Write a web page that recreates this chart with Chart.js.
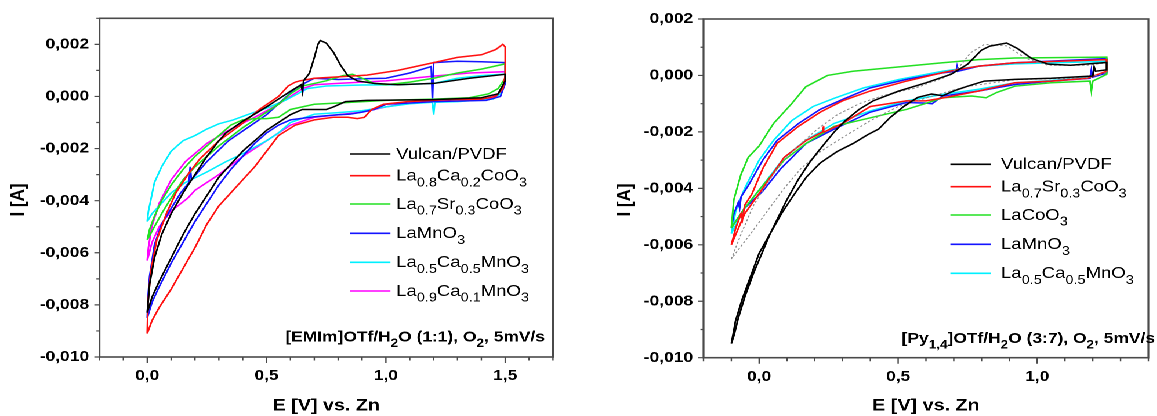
<!DOCTYPE html>
<html>
<head>
<meta charset="utf-8">
<title>CV curves</title>
<script src="https://cdn.jsdelivr.net/npm/chart.js@4.4.1/dist/chart.umd.min.js"></script>
<style>
  html, body { margin: 0; padding: 0; background: #fff; }
  body { width: 1157px; height: 416px; overflow: hidden; position: relative; }
  /* the original figure is stretched horizontally, so the charts are too */
  #stage { position: absolute; left: 0; top: 0; width: 1000px; height: 416px;
           transform: scaleX(1.16); transform-origin: 0 0; }
  #stage canvas { position: absolute; top: 0; }
</style>
</head>
<body>
<div id="stage">
  <canvas id="chartEMIm" width="500" height="416" style="left:0"></canvas>
  <canvas id="chartPy" width="500" height="416" style="left:500px"></canvas>
</div>
<script>
// ---- data: [E (V), I (A)] ----

// left panel: [EMIm]OTf/H2O (1:1)
const vulcanL = [[0,-0.0083],[0.01,-0.0072],[0.03,-0.0062],[0.06,-0.0053],[0.1,-0.0045],[0.15,-0.0037],[0.2,-0.003],[0.25,-0.0023],[0.3,-0.0017],[0.33,-0.0014],[0.4,-0.00095],[0.5,-0.0004],[0.55,-0.0001],[0.6,0.0002],[0.645,0.00045],[0.65,0.0002],[0.655,0.0006],[0.68,0.0009],[0.7,0.0015],[0.715,0.002],[0.725,0.00215],[0.75,0.00205],[0.78,0.0017],[0.81,0.0012],[0.84,0.0008],[0.88,0.0006],[0.95,0.0005],[1.05,0.00045],[1.2,0.0005],[1.35,0.0007],[1.5,0.00085],
  [1.5,0.0006],[1.47,0.0001],[1.4,-0.00005],[1.2,-0.00012],[0.92,-0.00015],[0.83,-0.0002],[0.78,-0.0004],[0.75,-0.0005],[0.7,-0.0005],[0.65,-0.0005],[0.6,-0.0007],[0.55,-0.001],[0.5,-0.0013],[0.45,-0.0017],[0.4,-0.0021],[0.35,-0.0026],[0.3,-0.0031],[0.25,-0.0038],[0.2,-0.0045],[0.15,-0.0053],[0.1,-0.0062],[0.05,-0.0071],[0.02,-0.0077],[0,-0.0083]];
const laCaCoL = [[0,-0.0091],[0.003,-0.0079],[0.015,-0.0067],[0.04,-0.0055],[0.08,-0.0045],[0.12,-0.0037],[0.17,-0.003],[0.22,-0.0024],[0.3,-0.0017],[0.39,-0.0011],[0.47,-0.0005],[0.55,0.0],[0.59,0.0004],[0.62,0.00055],[0.64,0.0006],[0.7,0.0007],[0.8,0.00075],[0.92,0.00082],[1.05,0.001],[1.2,0.0013],[1.3,0.0015],[1.4,0.0016],[1.46,0.0018],[1.49,0.002],[1.5,0.0019],
  [1.5,0.0008],[1.49,0.0003],[1.46,0.0],[1.4,-0.0001],[1.24,-0.00013],[1.09,-0.0002],[0.99,-0.0003],[0.94,-0.0005],[0.91,-0.0008],[0.88,-0.00085],[0.84,-0.0008],[0.78,-0.0008],[0.7,-0.0009],[0.62,-0.0011],[0.55,-0.0015],[0.5,-0.0021],[0.45,-0.0027],[0.4,-0.0032],[0.35,-0.0037],[0.3,-0.0042],[0.25,-0.0049],[0.2,-0.0058],[0.15,-0.0066],[0.1,-0.0074],[0.05,-0.0081],[0.02,-0.0086],[0,-0.0091]];
const laSrCoL = [[0,-0.0055],[0.01,-0.0051],[0.03,-0.0046],[0.06,-0.004],[0.1,-0.0034],[0.15,-0.0028],[0.2,-0.0023],[0.25,-0.0019],[0.3,-0.0015],[0.35,-0.0011],[0.4,-0.0009],[0.45,-0.00085],[0.5,-0.00085],[0.55,-0.0008],[0.6,-0.0005],[0.7,-0.0003],[0.8,-0.00025],[1.0,-0.00015],[1.2,-0.0001],[1.35,-0.00005],[1.43,0.0001],[1.47,0.0003],[1.5,0.0007],[1.5,0.00125],
  [1.4,0.00105],[1.3,0.0009],[1.2,0.0007],[1.1,0.00055],[1.0,0.00045],[0.95,0.0005],[0.9,0.0007],[0.86,0.00085],[0.82,0.0008],[0.75,0.0006],[0.7,0.0005],[0.65,0.0004],[0.6,0.0001],[0.55,-0.0003],[0.5,-0.0006],[0.4,-0.0012],[0.3,-0.0019],[0.2,-0.0027],[0.15,-0.0032],[0.1,-0.0039],[0.06,-0.0045],[0.03,-0.005],[0,-0.0055]];
const laMnL = [[0,-0.0085],[0.004,-0.0076],[0.01,-0.0069],[0.03,-0.0057],[0.06,-0.0049],[0.1,-0.0043],[0.14,-0.0037],[0.175,-0.0033],[0.18,-0.0027],[0.185,-0.0032],[0.25,-0.0025],[0.34,-0.0017],[0.42,-0.0012],[0.5,-0.0007],[0.56,-0.0002],[0.62,0.0003],[0.648,0.00045],[0.652,0.0002],[0.657,0.0005],[0.7,0.0007],[0.8,0.00065],[0.9,0.00068],[1.0,0.0007],[1.1,0.0009],[1.19,0.00115],[1.195,-0.0002],[1.2,0.0013],[1.3,0.00135],[1.4,0.00133],[1.5,0.0013],
  [1.5,0.0005],[1.48,0.0],[1.42,-0.00015],[1.2,-0.0002],[1.1,-0.00025],[1.0,-0.0003],[0.95,-0.0005],[0.9,-0.0006],[0.85,-0.00068],[0.8,-0.0007],[0.7,-0.00078],[0.6,-0.0009],[0.55,-0.0011],[0.5,-0.0014],[0.45,-0.0018],[0.4,-0.0023],[0.35,-0.0028],[0.3,-0.0034],[0.25,-0.0041],[0.2,-0.0048],[0.15,-0.0056],[0.1,-0.0064],[0.05,-0.0073],[0.02,-0.0079],[0,-0.0085]];
const laCaMn5L = [[0,-0.0048],[0.005,-0.0044],[0.012,-0.0041],[0.03,-0.0033],[0.06,-0.0027],[0.1,-0.0021],[0.15,-0.0017],[0.2,-0.0015],[0.25,-0.00125],[0.3,-0.00105],[0.36,-0.0009],[0.42,-0.0007],[0.5,-0.00045],[0.58,-0.00014],[0.63,0.0001],[0.67,0.0003],[0.75,0.0004],[0.9,0.00044],[1.05,0.00045],[1.2,0.0005],[1.3,0.0007],[1.4,0.0008],[1.5,0.00086],
  [1.5,0.0005],[1.48,0.0001],[1.45,-0.0001],[1.3,-0.0002],[1.205,-0.00022],[1.2,-0.0007],[1.195,-0.00022],[1.1,-0.00028],[1.0,-0.0004],[0.9,-0.00055],[0.8,-0.00062],[0.7,-0.00068],[0.6,-0.001],[0.55,-0.0014],[0.5,-0.0017],[0.4,-0.0022],[0.33,-0.0025],[0.25,-0.0029],[0.16,-0.0033],[0.1,-0.0037],[0.05,-0.0042],[0.02,-0.0045],[0,-0.0048]];
const laCaMn9L = [[0,-0.0063],[0.005,-0.0058],[0.019,-0.005],[0.05,-0.0041],[0.1,-0.0032],[0.16,-0.0025],[0.25,-0.0018],[0.34,-0.0013],[0.45,-0.0008],[0.55,-0.0003],[0.6,0.0],[0.65,0.0003],[0.7,0.00045],[0.8,0.0005],[0.9,0.00055],[1.0,0.0006],[1.2,0.00078],[1.35,0.0009],[1.5,0.00095],
  [1.5,0.0005],[1.48,0.0001],[1.42,-0.0001],[1.3,-0.00018],[1.2,-0.0002],[1.1,-0.00025],[1.0,-0.0004],[0.9,-0.0006],[0.8,-0.0007],[0.7,-0.0008],[0.6,-0.0011],[0.5,-0.0017],[0.4,-0.0023],[0.3,-0.003],[0.2,-0.0036],[0.17,-0.0039],[0.1,-0.0044],[0.05,-0.005],[0.02,-0.0056],[0,-0.0063]];

// right panel: [Py1,4]OTf/H2O (3:7)
const vulcanR = [[-0.1,-0.0095],[-0.085,-0.0087],[-0.06,-0.0079],[-0.03,-0.0071],[0.0,-0.0063],[0.04,-0.0056],[0.07,-0.005],[0.1,-0.0044],[0.14,-0.0037],[0.18,-0.0031],[0.22,-0.0026],[0.27,-0.002],[0.31,-0.0016],[0.36,-0.0012],[0.41,-0.0009],[0.5,-0.00056],[0.6,-0.00026],[0.69,0.00004],[0.75,0.0004],[0.8,0.0009],[0.83,0.00104],[0.89,0.00115],[0.93,0.00095],[0.98,0.0006],[1.04,0.0004],[1.12,0.00036],[1.25,0.00046],
  [1.25,0.0002],[1.21,0.00015],[1.205,0.0003],[1.2,-0.00002],[1.05,-0.0001],[0.92,-0.00014],[0.81,-0.0002],[0.75,-0.00038],[0.7,-0.00055],[0.66,-0.00072],[0.62,-0.00066],[0.57,-0.00078],[0.52,-0.0011],[0.47,-0.0015],[0.43,-0.0019],[0.39,-0.0021],[0.34,-0.0024],[0.28,-0.0027],[0.22,-0.0031],[0.17,-0.0036],[0.12,-0.0043],[0.08,-0.0049],[0.04,-0.0056],[0.01,-0.0063],[-0.02,-0.007],[-0.05,-0.0078],[-0.075,-0.0086],[-0.09,-0.0092],[-0.1,-0.0095]];
const dottedR = [[-0.1,-0.0065],[-0.06,-0.0055],[-0.02,-0.0046],[0.03,-0.0038],[0.08,-0.0031],[0.14,-0.0025],[0.21,-0.0019],[0.28,-0.0014],[0.36,-0.001],[0.45,-0.0007],[0.56,-0.00045],[0.66,-0.0001],[0.72,0.0003],[0.76,0.0008],[0.81,0.0011],[0.89,0.00105],[0.96,0.0006],[1.04,0.00036],[1.18,0.00036],[1.25,0.00045],
  [1.25,0.0001],[1.18,-0.00008],[0.92,-0.00015],[0.74,-0.0004],[0.6,-0.0008],[0.5,-0.0011],[0.4,-0.0016],[0.3,-0.0022],[0.22,-0.0027],[0.15,-0.0033],[0.09,-0.004],[0.03,-0.0048],[-0.03,-0.0056],[-0.1,-0.0065]];
const laSrCoR = [[-0.1,-0.006],[-0.084,-0.0054],[-0.065,-0.0049],[-0.06,-0.0051],[-0.052,-0.0046],[-0.026,-0.0042],[0.013,-0.0033],[0.065,-0.0024],[0.142,-0.0018],[0.22,-0.0013],[0.3,-0.0009],[0.4,-0.00055],[0.53,-0.0002],[0.66,0.0001],[0.71,0.0002],[0.79,0.00033],[0.92,0.00045],[1.25,0.00056],
  [1.25,0.00015],[1.18,-0.0001],[1.05,-0.0002],[0.92,-0.00026],[0.79,-0.00055],[0.66,-0.0008],[0.6,-0.0009],[0.53,-0.0009],[0.4,-0.0011],[0.3,-0.0017],[0.235,-0.002],[0.232,-0.0018],[0.228,-0.002],[0.17,-0.0023],[0.09,-0.0029],[0.013,-0.004],[-0.052,-0.0049],[-0.1,-0.006]];
const laCoR = [[-0.1,-0.0054],[-0.091,-0.0044],[-0.065,-0.0035],[-0.039,-0.0029],[0.0,-0.0025],[0.052,-0.0017],[0.117,-0.001],[0.168,-0.0004],[0.246,0.0],[0.337,0.00015],[0.466,0.00027],[0.66,0.00045],[0.79,0.00056],[0.92,0.00062],[1.25,0.00065],
  [1.25,0.00004],[1.2,-0.0002],[1.195,-0.00055],[1.19,-0.0002],[1.05,-0.00026],[0.92,-0.00038],[0.855,-0.0006],[0.816,-0.00079],[0.764,-0.00073],[0.66,-0.00079],[0.596,-0.001],[0.531,-0.0012],[0.4,-0.0015],[0.27,-0.0018],[0.17,-0.0024],[0.09,-0.003],[0.013,-0.0039],[-0.052,-0.0047],[-0.1,-0.0054]];
const laMnR = [[-0.1,-0.0054],[-0.091,-0.0049],[-0.075,-0.0045],[-0.07,-0.0047],[-0.065,-0.0043],[-0.039,-0.0039],[0.013,-0.003],[0.065,-0.0023],[0.142,-0.0017],[0.22,-0.0012],[0.3,-0.00085],[0.4,-0.00044],[0.53,-0.00014],[0.66,0.00009],[0.71,0.00015],[0.712,0.0003],[0.715,0.00015],[0.79,0.00033],[0.92,0.00045],[1.25,0.0006],
  [1.25,0.00009],[1.2,-0.00006],[1.195,0.0002],[1.19,-0.0001],[1.05,-0.0002],[0.92,-0.00032],[0.79,-0.00055],[0.66,-0.00073],[0.622,-0.001],[0.6,-0.00098],[0.53,-0.00096],[0.4,-0.0013],[0.27,-0.0019],[0.17,-0.0024],[0.078,-0.0033],[0.013,-0.0041],[-0.052,-0.0047],[-0.1,-0.0054]];
const laCaMn5R = [[-0.1,-0.0056],[-0.084,-0.0048],[-0.052,-0.004],[0.0,-0.003],[0.052,-0.0023],[0.117,-0.0016],[0.194,-0.0011],[0.272,-0.0008],[0.376,-0.00044],[0.505,-0.00014],[0.66,0.00015],[0.79,0.00033],[0.92,0.00041],[1.25,0.0005],
  [1.25,0.00009],[1.18,-0.00008],[1.05,-0.00018],[0.92,-0.00026],[0.79,-0.00049],[0.66,-0.00067],[0.53,-0.0009],[0.4,-0.00126],[0.27,-0.0017],[0.168,-0.0023],[0.091,-0.0029],[0.013,-0.0039],[-0.052,-0.0047],[-0.1,-0.0056]];

// legend texts, _{..} = subscript
const namesL = ['Vulcan/PVDF', 'La_{0.8}Ca_{0.2}CoO_{3}', 'La_{0.7}Sr_{0.3}CoO_{3}', 'LaMnO_{3}', 'La_{0.5}Ca_{0.5}MnO_{3}', 'La_{0.9}Ca_{0.1}MnO_{3}'];
const namesR = ['Vulcan/PVDF', 'La_{0.7}Sr_{0.3}CoO_{3}', 'LaCoO_{3}', 'LaMnO_{3}', 'La_{0.5}Ca_{0.5}MnO_{3}'];
const noteL = '[EMIm]OTf/H_{2}O (1:1), O_{2}, 5mV/s';
const noteR = '[Py_{1,4}]OTf/H_{2}O (3:7), O_{2}, 5mV/s';

const FONT = '"Liberation Sans", Arial, Helvetica, sans-serif';
Chart.defaults.font.family = FONT;
Chart.defaults.color = '#000';

const isMult = (v, step) => Math.abs(v / step - Math.round(v / step)) < 1e-6;
const fmt = (v, d) => (Math.abs(v) < 1e-9 ? 0 : v).toFixed(d).replace('.', ',');

function drawRich(ctx, text, x, y, size, weight, align) {
    const subSize = size * 0.78;
    const parts = text.split(/_\{([^}]*)\}/)
        .map((t, i) => ({ t, sub: i % 2 === 1 }))
        .filter(p => p.t);
    const fontOf = sub => `${weight} ${sub ? subSize : size}px ${FONT}`;
    let total = 0;
    parts.forEach(p => {
        ctx.font = fontOf(p.sub);
        p.w = ctx.measureText(p.t).width;
        total += p.w;
    });
    let cx = align === 'right' ? x - total : x;
    ctx.textAlign = 'left';
    ctx.textBaseline = 'alphabetic';
    parts.forEach(p => {
        ctx.font = fontOf(p.sub);
        ctx.fillText(p.t, cx, p.sub ? y + size * 0.36 : y);
        cx += p.w;
    });
}

// box around the plot + outward ticks (major and minor)
const framePlugin = {
    id: 'frame',
    afterDraw(chart) {
        const { ctx, chartArea: a, scales: { x, y } } = chart;
        ctx.save();
        ctx.strokeStyle = '#4a4a4a';
        ctx.lineWidth = 1.6;
        ctx.strokeRect(a.left, a.top, a.right - a.left, a.bottom - a.top);
        ctx.lineWidth = 1.2;
        ctx.beginPath();
        x.ticks.forEach(t => {
            const px = x.getPixelForValue(t.value);
            const len = isMult(t.value, 0.5) ? 6 : 3.5;
            ctx.moveTo(px, a.bottom);
            ctx.lineTo(px, a.bottom + len);
        });
        y.ticks.forEach(t => {
            const py = y.getPixelForValue(t.value);
            const len = isMult(t.value, 0.002) ? 4.5 : 2.7;
            ctx.moveTo(a.left, py);
            ctx.lineTo(a.left - len, py);
        });
        ctx.stroke();
        ctx.restore();
    }
};

// legend with subscripts, the condition note and the y title
const notesPlugin = {
    id: 'notes',
    afterDraw(chart, args, o) {
        const ctx = chart.ctx;
        ctx.save();
        ctx.fillStyle = '#000';

        ctx.save();
        ctx.translate(o.yTitle.x, o.yTitle.y);
        ctx.rotate(-Math.PI / 2);
        ctx.font = `bold 17px ${FONT}`;
        ctx.textAlign = 'center';
        ctx.textBaseline = 'middle';
        ctx.fillText('I [A]', 0, 0);
        ctx.restore();

        let row = 0;
        chart.data.datasets.forEach(ds => {
            if (!ds.legendText) return;
            const ly = o.legend.ys[row++];
            ctx.strokeStyle = ds.borderColor;
            ctx.lineWidth = 1.6;
            ctx.beginPath();
            ctx.moveTo(o.legend.x1, ly);
            ctx.lineTo(o.legend.x2, ly);
            ctx.stroke();
            drawRich(ctx, ds.legendText, o.legend.tx, ly + 4.8, 16, 'normal', 'left');
        });

        drawRich(ctx, o.note.text, o.note.x, o.note.y, 15, 'bold', 'right');
        ctx.restore();
    }
};

function series(points, name, color, extra) {
    return Object.assign({
        label: name ? name.replace(/_\{([^}]*)\}/g, '$1') : 'reference',
        legendText: name,
        data: points.map(([x, y]) => ({ x, y })),
        borderColor: color,
        borderWidth: 1.5,
        showLine: true,
        pointRadius: 0,
        fill: false,
        tension: 0
    }, extra || {});
}

function makeChart(id, datasets, cfg) {
    return new Chart(document.getElementById(id), {
        type: 'scatter',
        data: { datasets },
        plugins: [framePlugin, notesPlugin],
        options: {
            responsive: false,
            devicePixelRatio: 2,
            animation: false,
            events: [],
            layout: { padding: cfg.padding },
            plugins: {
                legend: { display: false },
                tooltip: { enabled: false },
                notes: cfg.notes
            },
            scales: {
                x: {
                    type: 'linear',
                    min: -0.2,
                    max: cfg.xMax,
                    afterFit: s => { s.height = cfg.xHeight; },
                    grid: { display: false, drawTicks: false },
                    border: { display: false },
                    ticks: {
                        stepSize: 0.1, autoSkip: false, maxRotation: 0, minRotation: 0,
                        padding: 10, color: '#000',
                        font: { size: 15, weight: 'bold' },
                        callback: v => isMult(v, 0.5) ? fmt(v, 1) : ''
                    },
                    title: {
                        display: true, text: 'E [V] vs. Zn', color: '#000',
                        font: { size: 17, weight: 'bold' },
                        padding: { top: 0, bottom: 0 }
                    }
                },
                y: {
                    type: 'linear',
                    min: -0.010,
                    max: cfg.yMax,
                    afterFit: s => { s.width = cfg.yWidth; },
                    grid: { display: false, drawTicks: false },
                    border: { display: false },
                    ticks: {
                        stepSize: 0.001, autoSkip: false, padding: 9, color: '#000',
                        font: { size: 15, weight: 'bold' },
                        callback: v => isMult(v, 0.002) ? fmt(v, 3) : ''
                    }
                }
            }
        }
    });
}

makeChart('chartEMIm', [
    series(vulcanL, namesL[0], '#000000'),
    series(laCaCoL, namesL[1], '#ff1010'),
    series(laSrCoL, namesL[2], '#22e022'),
    series(laMnL, namesL[3], '#1414ff'),
    series(laCaMn5L, namesL[4], '#00f0ff'),
    series(laCaMn9L, namesL[5], '#ff00ff')
], {
    xMax: 1.7, yMax: 0.003,
    padding: { left: 0, top: 18.3, right: 23.3, bottom: 0 },
    yWidth: 85.8, xHeight: 59,
    notes: {
        yTitle: { x: 15.8, y: 200 },
        legend: { x1: 301.7, x2: 336.6, tx: 341.5, ys: [154, 175.7, 204, 233.3, 262.3, 291] },
        note: { text: noteL, x: 469.8, y: 341.5 }
    }
});

makeChart('chartPy', [
    series(vulcanR, namesR[0], '#000000'),
    series(dottedR, null, '#8a8a8a', { borderWidth: 1, borderDash: [2, 2] }),
    series(laSrCoR, namesR[1], '#ff1010'),
    series(laCoR, namesR[2], '#22e022'),
    series(laMnR, namesR[3], '#1414ff'),
    series(laCaMn5R, namesR[4], '#00f0ff')
], {
    xMax: 1.4, yMax: 0.002,
    padding: { left: 0, top: 19, right: 1.3, bottom: 0 },
    yWidth: 106.5, xHeight: 58.3,
    notes: {
        yTitle: { x: 38.8, y: 200 },
        legend: { x1: 319.3, x2: 354.2, tx: 362.9, ys: [164.3, 186.7, 215, 244.3, 273.3] },
        note: { text: noteR, x: 495.7, y: 343 }
    }
});
</script>
</body>
</html>
